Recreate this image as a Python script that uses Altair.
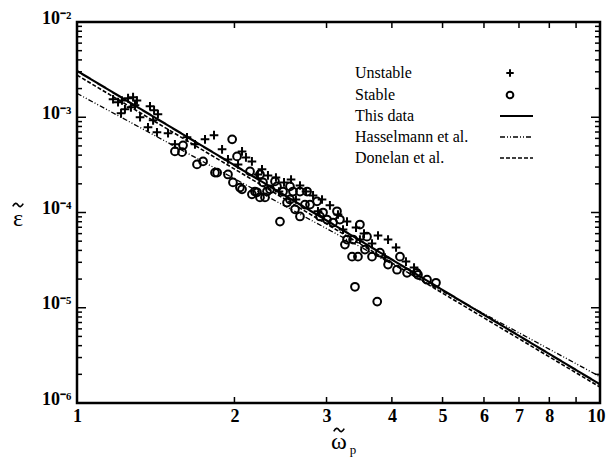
import altair as alt
import pandas as pd

# ---- data ----
unstable_x = [1.172, 1.198, 1.219, 1.235, 1.252, 1.280, 1.302, 1.291, 1.268, 1.214,
              1.379, 1.404, 1.428, 1.398, 1.367, 1.422, 1.493, 1.623, 1.757, 1.828,
              2.068, 2.104, 2.160, 2.258, 2.318, 2.401, 2.488, 2.566, 2.669, 2.741,
              2.827, 2.941, 3.045, 3.155, 3.283, 3.416, 3.538, 3.665, 3.763, 3.933,
              4.074, 3.880, 4.256, 1.944, 1.894, 2.032, 2.218, 2.433, 2.622, 2.889,
              3.226, 3.475, 4.410, 1.320, 1.539, 1.681]
unstable_y = [1.545e-3, 1.44e-3, 1.50e-3, 1.213e-3, 1.585e-3, 1.625e-3, 1.50e-3, 1.336e-3, 1.27e-3, 1.10e-3,
              1.305e-3, 1.186e-3, 1.076e-3, 9.29e-4, 7.85e-4, 6.95e-4, 6.79e-4, 6.15e-4, 5.86e-4, 6.48e-4,
              4.38e-4, 3.79e-4, 3.44e-4, 2.84e-4, 2.45e-4, 2.33e-4, 2.07e-4, 2.22e-4, 1.92e-4, 1.66e-4,
              1.51e-4, 1.37e-4, 1.19e-4, 9.53e-5, 8.03e-5, 6.95e-5, 6.01e-5, 4.72e-5, 5.73e-5, 5.20e-5,
              4.29e-5, 3.36e-5, 3.05e-5, 3.61e-4, 4.60e-4, 3.20e-4, 2.51e-4, 1.66e-4, 1.37e-4, 1.03e-4,
              6.62e-5, 5.20e-5, 2.64e-5, 1.0e-3, 5.20e-4, 5.20e-4]

stable_x = [1.539, 1.595, 1.588, 1.696, 1.742, 1.853, 1.944, 1.980, 2.023, 2.049,
            2.142, 2.238, 2.268, 2.209, 2.308, 2.412, 2.554, 2.669, 2.754, 2.444,
            2.521, 2.588, 2.877, 3.141, 2.915, 3.006, 3.087, 3.475, 3.372, 3.585,
            3.253, 3.357, 3.445, 3.665, 3.795, 4.145, 3.933, 4.092, 4.276, 4.487,
            4.669, 3.400, 3.750, 1.836, 2.954, 2.288, 2.238, 2.611, 2.669, 2.391,
            2.477, 2.160, 1.987, 2.068, 2.189, 2.339, 3.283, 3.553, 4.460, 4.857,
            2.789, 3.182, 2.554, 2.728]
stable_y = [4.38e-4, 5.07e-4, 4.30e-4, 3.20e-4, 3.44e-4, 2.62e-4, 2.51e-4, 5.86e-4, 3.88e-4, 1.83e-4,
            2.70e-4, 2.51e-4, 2.07e-4, 1.63e-4, 1.66e-4, 1.88e-4, 1.88e-4, 1.66e-4, 1.66e-4, 8.03e-5,
            1.27e-4, 1.66e-4, 1.31e-4, 1.03e-4, 9.08e-5, 8.44e-5, 7.85e-5, 7.48e-5, 5.20e-5, 5.58e-5,
            4.60e-5, 3.44e-5, 3.44e-5, 3.44e-5, 3.79e-5, 3.44e-5, 2.84e-5, 2.51e-5, 2.33e-5, 2.22e-5,
            1.97e-5, 1.66e-5, 1.16e-5, 2.62e-4, 9.99e-5, 1.44e-4, 1.44e-4, 1.08e-4, 9.08e-5, 2.12e-4,
            1.66e-4, 1.55e-4, 2.07e-4, 1.75e-4, 1.66e-4, 1.75e-4, 5.20e-5, 4.08e-5, 2.33e-5, 1.83e-5,
            1.21e-4, 8.44e-5, 1.37e-4, 1.21e-4]

# fit lines (end points at omega = 1 and 10)
line_names = ["This data", "Hasselmann et al.", "Donelan et al."]
line_x = [1, 10]
this_y = [3.07e-3, 1.57e-6]
hass_y = [1.78e-3, 1.89e-6]
don_y = [2.77e-3, 1.47e-6]

x_labels = [1, 2, 3, 4, 5, 6, 7, 8, 10]
y_decades = [1e-6, 1e-5, 1e-4, 1e-3, 1e-2]

W, H = 523, 381
FONT = "Liberation Serif"

xs = alt.Scale(type="log", domain=[1, 10], nice=False)
ys = alt.Scale(type="log", domain=[1e-6, 1e-2], nice=False)

df_u = pd.DataFrame({"x": unstable_x, "y": unstable_y})
df_s = pd.DataFrame({"x": stable_x, "y": stable_y})
df_lines = pd.DataFrame({
    "x": line_x * 3,
    "y": this_y + hass_y + don_y,
    "name": [n for n in line_names for _ in range(2)],
})

label_expr = ("round(log(datum.value)/LN10) == -2 ? '10⁻²' : "
              "round(log(datum.value)/LN10) == -3 ? '10⁻³' : "
              "round(log(datum.value)/LN10) == -4 ? '10⁻⁴' : "
              "round(log(datum.value)/LN10) == -5 ? '10⁻⁵' : '10⁻⁶'")

x_enc = alt.X("x:Q", scale=xs, axis=alt.Axis(
    values=x_labels, format="d", tickSize=0, grid=False, domain=False,
    labelFont=FONT, labelFontSize=18, labelFontWeight="bold", labelColor="black",
    labelPadding=4, labelFlush=False,
    labelOffset={"condition": {"test": "datum.value == 10", "value": -4}, "value": 0},
    title=""))
y_enc = alt.Y("y:Q", scale=ys, axis=alt.Axis(
    values=y_decades, labelExpr=label_expr, tickSize=0, grid=False, domain=False,
    labelFont=FONT, labelFontSize=18, labelFontWeight="bold", labelColor="black",
    labelPadding=6, labelOffset=-4, labelFlush=False, title=""))

plus_path = "M-1,0L1,0M0,-1L0,1"
tilde_path = "M-1,0.25C-0.6,-0.45 -0.3,-0.45 0,0 C0.3,0.45 0.6,0.45 1,-0.25"

pts_u = alt.Chart(df_u).mark_point(shape=plus_path, filled=False, color="black",
                                   strokeWidth=2, size=75, opacity=1).encode(x=x_enc, y=y_enc)
pts_s = alt.Chart(df_s).mark_point(shape="circle", filled=False, color="black",
                                   strokeWidth=2, size=60, opacity=1).encode(
    x=alt.X("x:Q", scale=xs), y=alt.Y("y:Q", scale=ys))

dash_map = {"This data": [1, 0], "Hasselmann et al.": [5, 2, 1, 2, 1, 2], "Donelan et al.": [4, 2]}
width_map = {"This data": 2.2, "Hasselmann et al.": 1.3, "Donelan et al.": 1.6}

line_layers = []
for n in line_names:
    line_layers.append(
        alt.Chart(df_lines[df_lines.name == n]).mark_line(
            color="black", strokeWidth=width_map[n], strokeDash=dash_map[n]).encode(
            x=alt.X("x:Q", scale=xs), y=alt.Y("y:Q", scale=ys)))

# tick marks pointing inward on all four sides
minor_y = [m * d for d in [1e-6, 1e-5, 1e-4, 1e-3] for m in range(2, 10)]
df_minor = pd.DataFrame({"y": minor_y})
df_major = pd.DataFrame({"y": y_decades})
df_tx = pd.DataFrame({"x": [1, 2, 3, 4, 5, 6, 7, 8, 9, 10]})

def yticks(df, x0, x1):
    return alt.Chart(df).mark_rule(color="black", strokeWidth=1.5).encode(
        y=alt.Y("y:Q", scale=ys), x=alt.value(x0), x2=alt.value(x1))

tick_layers = [
    yticks(df_minor, 0, 5), yticks(df_major, 0, 9),
    yticks(df_minor, W - 5, W), yticks(df_major, W - 9, W),
    alt.Chart(df_tx).mark_rule(color="black", strokeWidth=1.5).encode(
        x=alt.X("x:Q", scale=xs), y=alt.value(H - 6), y2=alt.value(H)),
    alt.Chart(df_tx).mark_rule(color="black", strokeWidth=1.5).encode(
        x=alt.X("x:Q", scale=xs), y=alt.value(0), y2=alt.value(6)),
]

# axis titles (epsilon / omega with tilde)
def label(txt, px, py, size, baseline="middle"):
    return alt.Chart(pd.DataFrame({"t": [txt]})).mark_text(
        font=FONT, fontSize=size, color="black", align="center", baseline=baseline).encode(
        text="t:N", x=alt.value(px), y=alt.value(py))

def tilde(px, py):
    return alt.Chart(pd.DataFrame({"a": [0]})).mark_point(
        shape=tilde_path, filled=False, color="black", strokeWidth=1.6, size=110, opacity=1).encode(
        x=alt.value(px), y=alt.value(py))

title_layers = [
    label("ε", -59, 197, 24), tilde(-59, 183),
    label("ω", 262, 420, 24), tilde(262, 408), label("p", 276, 428, 13),
]

# legend (manual)
legend_labels = ["Unstable", "Stable", "This data", "Hasselmann et al.", "Donelan et al."]
leg_y = [51, 73, 94, 115, 136]
leg_text = alt.Chart(pd.DataFrame({"t": legend_labels, "py": leg_y})).mark_text(
    align="left", baseline="middle", font=FONT, fontSize=16, color="black").encode(
    text="t:N", x=alt.value(278), y=alt.Y("py:Q", scale=None))
leg_plus = alt.Chart(pd.DataFrame({"a": [0]})).mark_point(
    shape=plus_path, filled=False, color="black", strokeWidth=2, size=55, opacity=1).encode(
    x=alt.value(433), y=alt.value(leg_y[0]))
leg_circ = alt.Chart(pd.DataFrame({"a": [0]})).mark_point(
    shape="circle", filled=False, color="black", strokeWidth=2, size=45, opacity=1).encode(
    x=alt.value(433), y=alt.value(leg_y[1]))
leg_lines = []
for i, n in enumerate(line_names):
    leg_lines.append(alt.Chart(pd.DataFrame({"a": [0]})).mark_rule(
        color="black", strokeWidth=width_map[n], strokeDash=dash_map[n]).encode(
        x=alt.value(423), x2=alt.value(456), y=alt.value(leg_y[2 + i])))

chart = alt.layer(
    pts_u, pts_s, *line_layers, *tick_layers, *title_layers,
    leg_text, leg_plus, leg_circ, *leg_lines
).properties(
    width=W, height=H,
    autosize=alt.AutoSizeParams(type="none"),
    padding={"left": 77, "top": 22, "right": 7, "bottom": 55},
    background="white",
).configure_view(stroke="black", strokeWidth=2.5)

chart.save("out.html", embed_options={"renderer": "svg", "actions": False})
